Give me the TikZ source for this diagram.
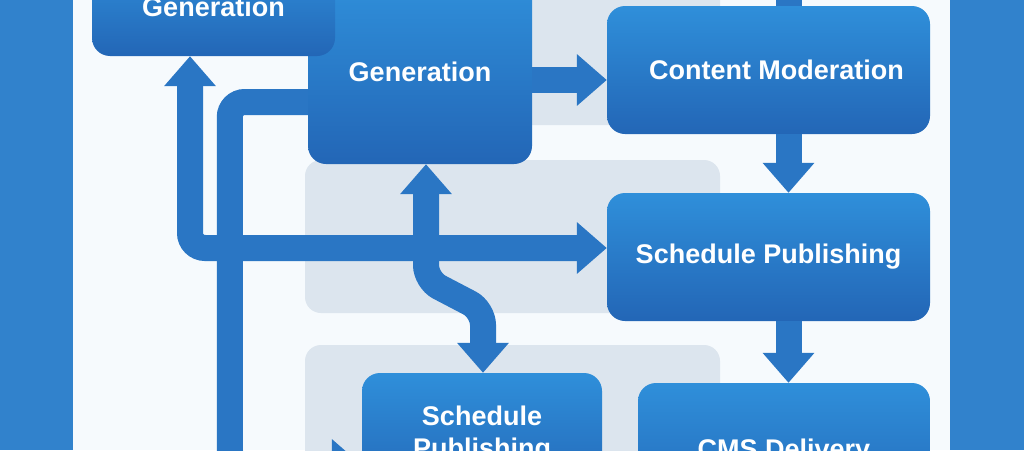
\documentclass[tikz,border=0pt]{standalone}
\usepackage{fontspec}
\setmainfont{Liberation Sans}
\usetikzlibrary{arrows.meta}
\definecolor{bg}{HTML}{F6FAFD}
\definecolor{panel}{HTML}{DCE5EE}
\definecolor{band}{HTML}{3182CC}
\definecolor{arrowblue}{HTML}{2A76C4}
\definecolor{boxtop}{HTML}{2F8FDA}
\definecolor{boxbot}{HTML}{2366B6}
\begin{document}
\begin{tikzpicture}[x=1pt,y=-1pt,
  box/.style={rectangle, rounded corners=18pt, inner sep=0pt, top color=boxtop, bottom color=boxbot, draw=none, text=white, font=\fontsize{27}{32}\selectfont\bfseries, align=center},
  conn/.style={draw=arrowblue, line width=26pt, rounded corners=15pt},
  >={Triangle[width=50pt,length=30pt]}]
\useasboundingbox (0,0) rectangle (1024,450);
\clip (0,0) rectangle (1024,450);
% background, bands, panels
\fill[bg] (0,0) rectangle (1024,450);
\fill[band] (0,0) rectangle (73,450);
\fill[band] (950,0) rectangle (1024,450);
\fill[panel, rounded corners=16pt] (480,-30) rectangle (720,125);
\fill[panel, rounded corners=16pt] (305,160) rectangle (720,313);
\fill[panel, rounded corners=16pt] (305,345) rectangle (720,480);
% boxes
\path (420,72) node[box, minimum width=224pt, minimum height=184pt] (B) {Generation};
\path (213.5,7) node[box, minimum width=243pt, minimum height=98pt] (A) {Generation};
\path (768.5,70) node[box, minimum width=323pt, minimum height=128pt] (C) {\hspace*{16pt}Content Moderation};
\path (768.5,257) node[box, minimum width=323pt, minimum height=128pt] (D) {Schedule Publishing};
\path (784,452) node[box, minimum width=292pt, minimum height=138pt] (E) {CMS Delivery};
\path (482,435) node[box, minimum width=240pt, minimum height=124pt] (F) {Schedule\\Publishing};
\coordinate (topin) at (788.5,-40);
% connectors
\draw[conn, <->] ([xshift=-23.5pt]A.south) |- ([yshift=9pt]D.west);
\draw[conn, ->] ([yshift=-30pt]B.west) -- ++(-78,0) |- ([yshift=-30pt]F.west);
\draw[conn, ->] ([yshift=-8pt]B.east) -- ([yshift=-8pt]B.east -| C.west);
\draw[conn, ->] ([xshift=20pt]C.south) -- ([xshift=20pt]D.north);
\draw[conn, ->] ([xshift=20pt]D.south) -- ([xshift=20pt]D.south |- E.north);
\draw[conn] (topin) -- ([xshift=20pt]C.north);
\draw[conn, <->] ([xshift=6pt]B.south) -- ++(0,116) -- ([xshift=1pt]F.north |- 0,310) -- ([xshift=1pt]F.north);
\end{tikzpicture}
\end{document}
